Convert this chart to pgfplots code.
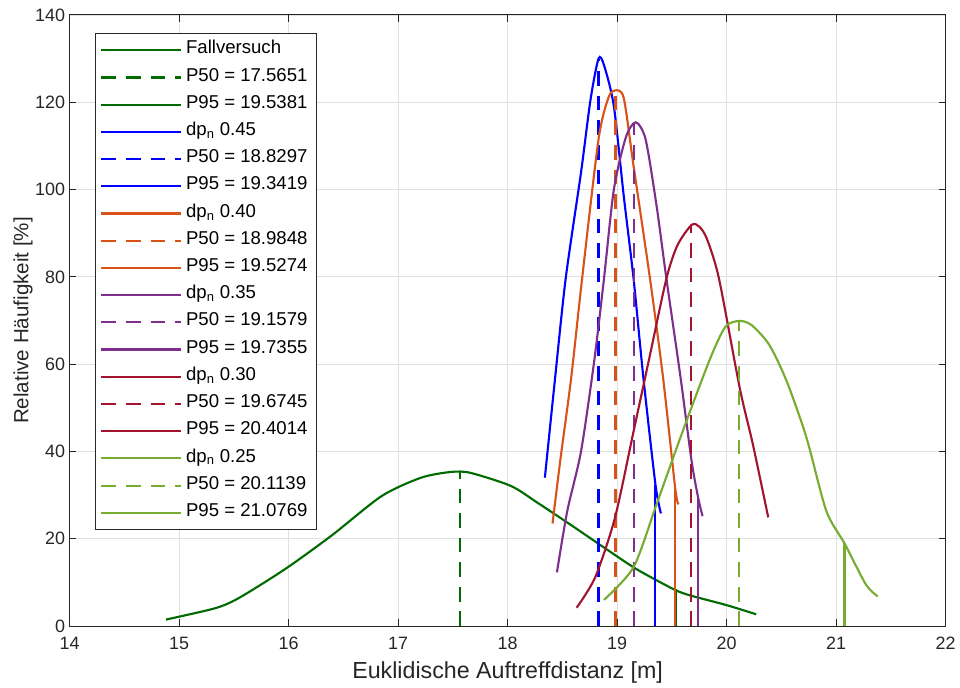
\documentclass[border=0pt]{standalone}
\usepackage{pgfplots}
\pgfplotsset{compat=1.18}
\usepackage{fontspec}
\setmainfont{Liberation Sans}
\usetikzlibrary{calc}
\definecolor{cFall}{rgb}{0,0.42,0}
\definecolor{cBlue}{rgb}{0,0,1}
\definecolor{cOrange}{HTML}{D95319}
\definecolor{cPurple}{HTML}{7E2F8E}
\definecolor{cRed}{HTML}{A2142F}
\definecolor{cLGreen}{HTML}{77AC30}
\definecolor{axgray}{rgb}{0.15,0.15,0.15}
\begin{document}
\begin{tikzpicture}
\begin{axis}[
  scale only axis,
  width=660pt, height=460.5pt,
  xmin=14, xmax=22, ymin=0, ymax=140,
  xtick={14,15,...,22}, ytick={0,20,...,140},
  grid=major,
  major grid style={color=black!12, line width=0.6pt},
  axis line style={color=axgray, line width=0.75pt},
  tick style={color=axgray, line width=0.75pt},
  tick align=inside,
  major tick length=5pt,
  /pgf/number format/assume math mode=true,
  ticklabel style={font=\fontsize{13.5}{15}\selectfont, color=axgray},
  xticklabel style={yshift=-5pt},
  xlabel={Euklidische Auftreffdistanz [m]},
  ylabel={Relative Häufigkeit [\%]},
  xlabel style={font=\fontsize{17.5}{19}\selectfont, color=axgray, yshift=-2pt},
  ylabel style={font=\fontsize{15.5}{17}\selectfont, color=axgray, yshift=-5pt},
  legend cell align=left,
  legend style={at={(rel axis cs:0,1)}, anchor=north west, xshift=18.75pt, yshift=-13.5pt,
    font=\fontsize{14}{16}\selectfont, draw=axgray, line width=0.75pt,
    row sep=1pt, inner xsep=4pt, inner ysep=3pt,
    nodes={text height=10.5pt, text depth=5pt, inner xsep=3pt}},
  legend image code/.code={\draw[#1] (0pt,0pt) -- (60pt,0pt);},
  every axis plot/.append style={line width=1.6pt},
  mydash/.style={dash pattern=on 11pt off 7.5pt},
  sm/.style={smooth, tension=0.45},
]
% Fallversuch
\addplot[cFall, sm] coordinates {(14.88,1.5) (15.33,4.1) (15.55,6.5) (15.97,13.1) (16.39,20.7) (16.85,29.8) (17.21,34) (17.48,35.3) (17.66,35.1) (18.03,32.1) (18.27,28.3) (18.57,23.3) (18.88,18) (19.18,13) (19.52,8.4) (19.67,7) (20.0,4.8) (20.27,2.7)};
\addlegendentry{Fallversuch}
\addplot[cFall, mydash] coordinates {(17.5651,0) (17.5651,35.2)};
\addlegendentry{P50 = 17.5651}
\addplot[cFall] coordinates {(19.5381,0) (19.5381,8.5)};
\addlegendentry{P95 = 19.5381}
% dp 0.45
\addplot[cBlue, sm] coordinates {(18.34,34) (18.43,56) (18.53,79.6) (18.67,103.9) (18.757,120.6) (18.83,130) (18.88,128.5) (18.97,119.1) (19.06,98.6) (19.15,79.6) (19.24,56.8) (19.35,32.4) (19.40,25.8)};
\addlegendentry{dp\textsubscript{n} 0.45}
\addplot[cBlue, mydash] coordinates {(18.8297,0) (18.8297,130)};
\addlegendentry{P50 = 18.8297}
\addplot[cBlue] coordinates {(19.3419,0) (19.3419,32.4)};
\addlegendentry{P95 = 19.3419}
% dp 0.40
\addplot[cOrange, sm] coordinates {(18.41,23.5) (18.48,37.8) (18.58,56.8) (18.68,79.6) (18.83,111.5) (18.92,121) (18.98,122.7) (19.06,121) (19.15,105.4) (19.30,79.6) (19.42,56.8) (19.53,31.7) (19.56,27.9)};
\addlegendentry{dp\textsubscript{n} 0.40}
\addplot[cOrange, mydash] coordinates {(18.9848,0) (18.9848,122.5)};
\addlegendentry{P50 = 18.9848}
\addplot[cOrange] coordinates {(19.5274,0) (19.5274,31.5)};
\addlegendentry{P95 = 19.5274}
% dp 0.35
\addplot[cPurple, sm] coordinates {(18.45,12.3) (18.545,26.4) (18.67,40) (18.79,60.6) (18.88,79.6) (18.97,100) (19.08,112) (19.17,115.4) (19.26,111.5) (19.36,96.3) (19.45,79.6) (19.58,56.8) (19.68,37.8) (19.74,29.4) (19.78,25.2)};
\addlegendentry{dp\textsubscript{n} 0.35}
\addplot[cPurple, mydash] coordinates {(19.1579,0) (19.1579,115.3)};
\addlegendentry{P50 = 19.1579}
\addplot[cPurple] coordinates {(19.7355,0) (19.7355,29.5)};
\addlegendentry{P95 = 19.7355}
% dp 0.30
\addplot[cRed, sm] coordinates {(18.63,4.2) (18.80,11.2) (18.98,24.8) (19.15,44.6) (19.30,62.1) (19.45,79.6) (19.55,87.2) (19.68,91.9) (19.75,91.5) (19.82,88.7) (19.93,79.6) (20.12,54.5) (20.24,41.6) (20.38,24.9)};
\addlegendentry{dp\textsubscript{n} 0.30}
\addplot[cRed, mydash] coordinates {(19.6745,0) (19.6745,91.9)};
\addlegendentry{P50 = 19.6745}
\addplot[cRed] coordinates {(20.4014,0) (20.4014,0)};
\addlegendentry{P95 = 20.4014}
% dp 0.25
\addplot[cLGreen, sm] coordinates {(18.88,6) (19.15,13.5) (19.36,27.9) (19.61,45.4) (19.85,61.3) (19.99,68.6) (20.12,69.9) (20.23,68.9) (20.39,64.4) (20.55,56) (20.73,43.1) (20.91,26.4) (21.08,18.8) (21.27,9.6) (21.38,6.8)};
\addlegendentry{dp\textsubscript{n} 0.25}
\addplot[cLGreen, mydash] coordinates {(20.1139,0) (20.1139,69.8)};
\addlegendentry{P50 = 20.1139}
\addplot[cLGreen] coordinates {(21.0769,0) (21.0769,19)};
\addlegendentry{P95 = 21.0769}
\end{axis}
\path ($(current axis.south west)+(-52.5pt,-44.25pt)$) rectangle ($(current axis.north east)+(7.5pt,11.25pt)$);
\end{tikzpicture}
\end{document}
